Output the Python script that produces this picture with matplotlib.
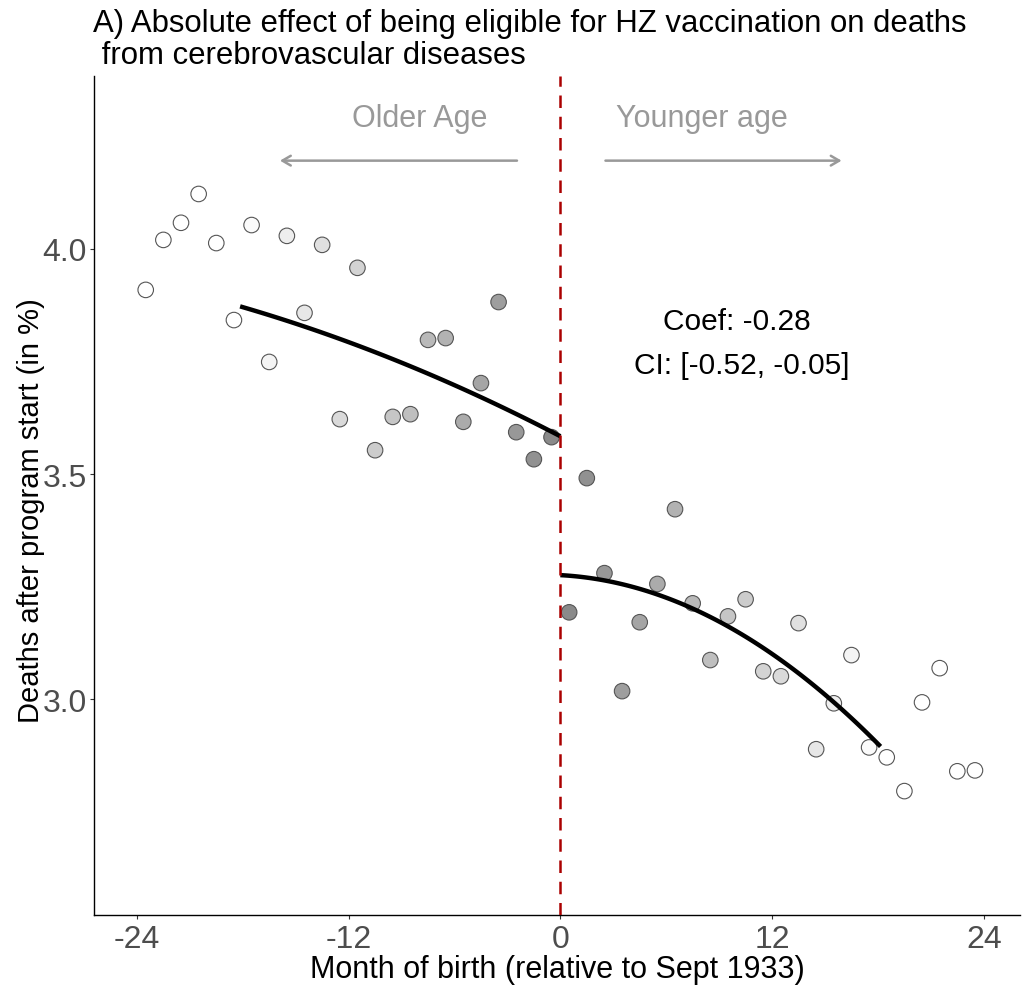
import numpy as np
import matplotlib.pyplot as plt

plt.rcParams['font.family'] = ['Liberation Sans', 'DejaVu Sans']
plt.rcParams['axes.unicode_minus'] = False

# monthly bins, months relative to Sept 1933
months_left = np.arange(-23.5, 0, 1.0)
months_right = np.arange(0.5, 24, 1.0)

deaths_left = [3.909, 4.020, 4.058, 4.122, 4.013, 3.842, 4.053, 3.749,
               4.029, 3.858, 4.009, 3.622, 3.958, 3.553, 3.627, 3.633,
               3.798, 3.802, 3.616, 3.702, 3.882, 3.593, 3.533, 3.582]
deaths_right = [3.193, 3.491, 3.280, 3.018, 3.171, 3.256, 3.422, 3.213,
                3.087, 3.184, 3.222, 3.062, 3.051, 3.169, 2.889, 2.991,
                3.098, 2.893, 2.871, 2.796, 2.993, 3.069, 2.840, 2.842]

# local quadratic fits (quad, linear, intercept) on each side of the cutoff
fit_left = [-0.000248, -0.02039, 3.584]
fit_right = [-0.001039, -0.00211, 3.2756]
bandwidth = 18.15

coef_label = 'Coef: -0.28'
ci_label = 'CI: [-0.52, -0.05]'


def weights(x):
    return np.clip(1 - np.abs(x) / bandwidth, 0, None)


def fill_colour(w):
    g = 1 - 0.47 * w
    return [(v, v, v) for v in g]


fig = plt.figure(figsize=(10.22, 9.87), dpi=100)
ax = fig.add_axes([0.092, 0.072, 0.906, 0.85])

for xs, ys in [(months_left, deaths_left), (months_right, deaths_right)]:
    ax.scatter(xs, ys, s=125, c=fill_colour(weights(xs)), edgecolors='#555555',
               linewidths=0.8, zorder=3)

gl = np.linspace(-bandwidth, 0, 100)
gr = np.linspace(0, bandwidth, 100)
ax.plot(gl, np.polyval(fit_left, gl), color='black', lw=3.2, zorder=4, solid_capstyle='butt')
ax.plot(gr, np.polyval(fit_right, gr), color='black', lw=3.2, zorder=4, solid_capstyle='butt')

ax.axvline(0, color='#aa0000', lw=1.8, ls=(0, (5, 3.5)), zorder=5)

arrow = dict(arrowstyle='->,head_length=0.6,head_width=0.35', color='#999999', lw=1.8)
ax.annotate('', xy=(-16.05, 4.196), xytext=(-2.3, 4.196), arrowprops=arrow)
ax.annotate('', xy=(16.1, 4.196), xytext=(2.4, 4.196), arrowprops=arrow)
ax.text(-8.0, 4.29, 'Older Age', color='#999999', fontsize=22, ha='center', va='center')
ax.text(8.0, 4.29, 'Younger age', color='#999999', fontsize=22, ha='center', va='center')

ax.text(10.0, 3.84, coef_label, fontsize=21.5, ha='center', va='center')
ax.text(10.3, 3.743, ci_label, fontsize=21.5, ha='center', va='center')

ax.set_xlim(-26.43, 26.05)
ax.set_ylim(2.521, 4.384)
ax.set_xticks([-24, -12, 0, 12, 24])
ax.set_yticks([3.0, 3.5, 4.0])
ax.set_yticklabels(['3.0', '3.5', '4.0'])
ax.tick_params(labelsize=23, labelcolor='#4d4d4d', color='#333333', length=3, width=0.8)
ax.tick_params(axis='y', pad=2)
for s in ['top', 'right']:
    ax.spines[s].set_visible(False)
for s in ['left', 'bottom']:
    ax.spines[s].set_linewidth(1.0)

ax.set_xlabel('Month of birth (relative to Sept 1933)', fontsize=22, labelpad=0)
ax.set_ylabel('Deaths after program start (in %)', fontsize=21)
ax.yaxis.set_label_coords(-0.053, 0.483)
ax.set_title('A) Absolute effect of being eligible for HZ vaccination on deaths\n'
             ' from cerebrovascular diseases', fontsize=22.4, loc='left',
             x=-0.001, y=1.005, linespacing=1.12)

fig.savefig('out.png', dpi=100)
